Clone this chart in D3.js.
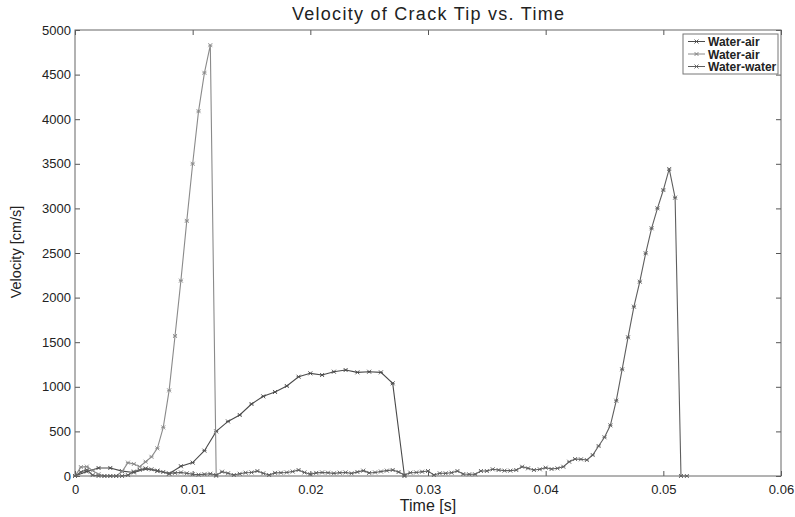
<!DOCTYPE html>
<html>
<head>
<meta charset="utf-8">
<script src="https://cdn.jsdelivr.net/npm/d3@7"></script>
<style>
  body { margin: 0; background: #fff; }
  svg text { font-family: "Liberation Sans", Arial, sans-serif; fill: #222; }
</style>
</head>
<body>
<div id="chart"></div>
<script>
var width = 795;
var height = 517;

// sampling step of the measurements [s]
var dt = 0.0005;

// first Water-air run (sampled every 0.5 ms)
var airA = [0, 100, 105, 60, 20, 0, 0, 0, 50, 150, 135, 105, 160, 215, 310, 545,
  960, 1570, 2190, 2860, 3500, 4090, 4520, 4830, 0];

// second Water-air run (sampled every 1 ms)
var airBTime = [0, 0.001, 0.002, 0.003, 0.004, 0.005, 0.006, 0.007, 0.008, 0.009,
  0.010, 0.011, 0.012, 0.013, 0.014, 0.015, 0.016, 0.017, 0.018, 0.019,
  0.020, 0.021, 0.022, 0.023, 0.024, 0.025, 0.026, 0.027, 0.028];
var airB = [0, 50, 90, 90, 55, 40, 80, 60, 25, 110,
  150, 284, 500, 612, 684, 807, 893, 942, 1009, 1113,
  1151, 1132, 1169, 1188, 1162, 1169, 1162, 1039, 0];

// Water-water run (sampled every 0.5 ms)
var water = [0, 45, 70, 10, 0, 0, 0, 0, 0, 10, 50, 70, 85, 75, 55, 45, 30, 35, 40, 30,
  20, 15, 20, 25, 10, 48, 30, 11, 25, 37, 40, 56, 30, 11, 35, 37, 40, 50, 67, 40,
  20, 35, 40, 37, 30, 37, 40, 30, 45, 60, 35, 40, 50, 60, 67, 45, 11, 37, 40, 48,
  56, 11, 30, 30, 37, 56, 22, 19, 19, 56, 56, 75, 67, 60, 60, 67, 104, 86, 67, 75,
  93, 78, 86, 104, 160, 190, 187, 179, 235, 336, 434, 568, 844, 1196, 1555, 1898,
  2178, 2497, 2777, 3001, 3206, 3442, 3120, 0, 0];

var xTicks = [0, 0.01, 0.02, 0.03, 0.04, 0.05, 0.06];
var yTicks = [0, 500, 1000, 1500, 2000, 2500, 3000, 3500, 4000, 4500, 5000];
var legendNames = ["Water-air", "Water-air", "Water-water"];

var seriesA = airA.map(function (v, i) { return {t: i * dt, v: v}; });
var seriesB = airB.map(function (v, i) { return {t: airBTime[i], v: v}; });
var seriesC = water.map(function (v, i) { return {t: i * dt, v: v}; });

var series = [
  {name: legendNames[0], data: seriesB, color: "#4a4a4a"},
  {name: legendNames[1], data: seriesA, color: "#8a8a8a"},
  {name: legendNames[2], data: seriesC, color: "#5e5e5e"}
];

var plotL = 75, plotR = 781, plotT = 30, plotB = 476;

var svg = d3.select("#chart")
  .append("svg")
    .attr("width", width)
    .attr("height", height);

var xScale = d3.scaleLinear().domain([0, 0.06]).range([plotL, plotR]);
var yScale = d3.scaleLinear().domain([0, 5000]).range([plotB, plotT]);

// axes, matlab style: ticks pointing inward on all four sides
var fmt = function (d) { return d === 0 ? "0" : d3.format(".2f")(d); };

svg.append("g")
  .attr("transform", "translate(0," + plotB + ")")
  .call(d3.axisBottom(xScale).tickValues(xTicks).tickSize(-5).tickPadding(9).tickFormat(fmt))
  .call(function (g) { g.select(".domain").remove(); g.selectAll("text").attr("font-size", 13); });

svg.append("g")
  .attr("transform", "translate(0," + plotT + ")")
  .call(d3.axisTop(xScale).tickValues(xTicks).tickSize(-5).tickFormat(""))
  .call(function (g) { g.select(".domain").remove(); });

svg.append("g")
  .attr("transform", "translate(" + plotL + ",0)")
  .call(d3.axisLeft(yScale).tickValues(yTicks).tickSize(-5).tickPadding(4).tickFormat(d3.format("d")))
  .call(function (g) { g.select(".domain").remove(); g.selectAll("text").attr("font-size", 13); });

svg.append("g")
  .attr("transform", "translate(" + plotR + ",0)")
  .call(d3.axisRight(yScale).tickValues(yTicks).tickSize(-5).tickFormat(""))
  .call(function (g) { g.select(".domain").remove(); });

svg.selectAll(".tick line").attr("stroke", "#555");

// lines
var line = d3.line()
  .x(function (d) { return xScale(d.t); })
  .y(function (d) { return yScale(d.v); });

function marker(x, y, s) {
  return "M" + (x - s) + "," + (y - s) + "L" + (x + s) + "," + (y + s) +
    "M" + (x - s) + "," + (y + s) + "L" + (x + s) + "," + (y - s) +
    "M" + (x - s) + "," + y + "L" + (x + s) + "," + y;
}

series.forEach(function (s) {
  svg.append("path")
    .datum(s.data)
    .attr("fill", "none")
    .attr("stroke", s.color)
    .attr("stroke-width", 1.1)
    .attr("d", line);

  svg.append("path")
    .attr("fill", "none")
    .attr("stroke", s.color)
    .attr("stroke-width", 0.9)
    .attr("d", s.data.map(function (d) { return marker(xScale(d.t), yScale(d.v), 2); }).join(""));
});

// frame
svg.append("rect")
  .attr("x", plotL).attr("y", plotT)
  .attr("width", plotR - plotL).attr("height", plotB - plotT)
  .attr("fill", "none").attr("stroke", "#666");

// legend
var lg = svg.append("g").attr("transform", "translate(683,34)");
lg.append("rect").attr("width", 95).attr("height", 40)
  .attr("fill", "#fff").attr("stroke", "#777");

series.forEach(function (s, i) {
  var yy = 7.5 + i * 12.5;
  lg.append("line").attr("x1", 5).attr("x2", 22).attr("y1", yy).attr("y2", yy)
    .attr("stroke", s.color);
  lg.append("path").attr("d", marker(13.5, yy, 2))
    .attr("stroke", s.color).attr("fill", "none").attr("stroke-width", 0.9);
  lg.append("text").attr("x", 25).attr("y", yy + 4.5)
    .attr("font-size", 12).attr("font-weight", "bold").attr("fill", "#222")
    .text(s.name);
});

// titles
svg.append("text")
  .attr("x", 428).attr("y", 20)
  .attr("text-anchor", "middle").attr("font-size", 18)
  .attr("textLength", 272).attr("lengthAdjust", "spacing")
  .text("Velocity of Crack Tip vs. Time");

svg.append("text")
  .attr("x", 428).attr("y", 511)
  .attr("text-anchor", "middle").attr("font-size", 16)
  .text("Time [s]");

svg.append("text")
  .attr("transform", "translate(21," + 252 + ") rotate(-90)")
  .attr("text-anchor", "middle").attr("font-size", 14.5)
  .text("Velocity [cm/s]");
</script>
</body>
</html>
